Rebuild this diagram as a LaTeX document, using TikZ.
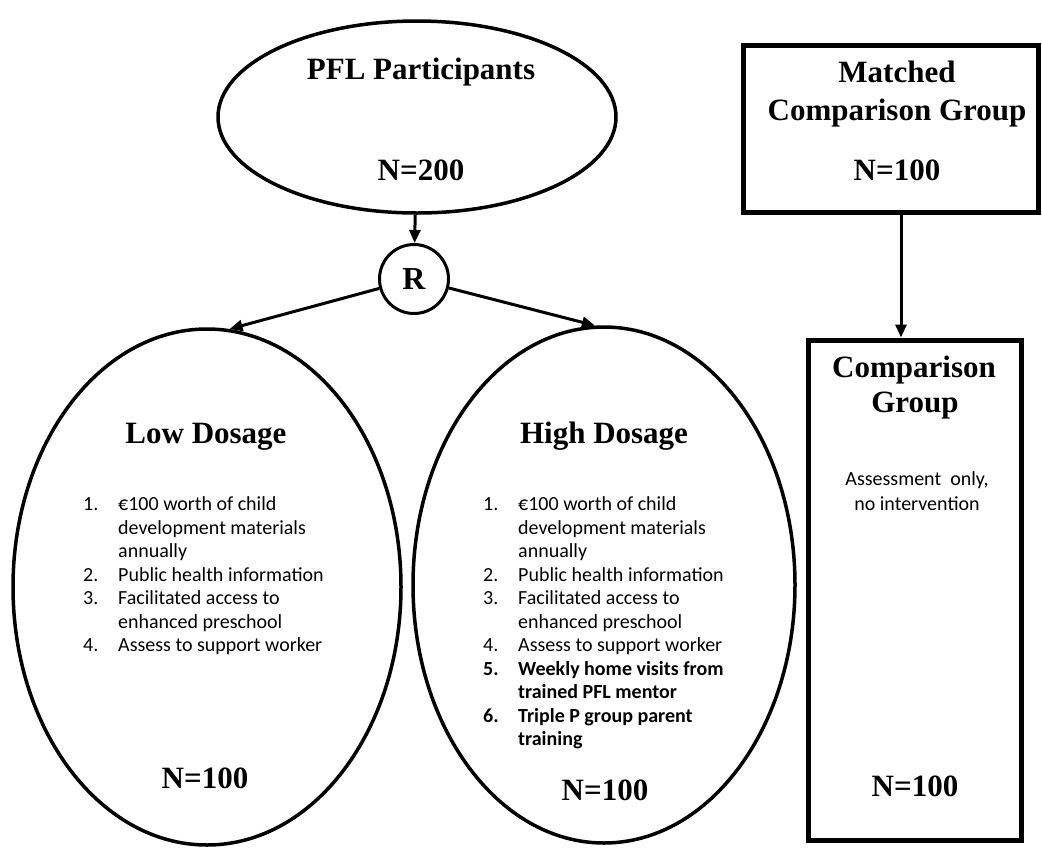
\documentclass[tikz,border=0pt]{standalone}
\usepackage{fontspec}
\setmainfont{Liberation Serif}
\newfontfamily\listfont{Carlito}
\usetikzlibrary{arrows.meta,shapes.geometric}

\begin{document}
\begin{tikzpicture}[x=1pt, y=-1pt]
	\useasboundingbox (0,0) rectangle (1042,847);
      \tikzstyle{group} = [draw, ellipse, line width=3.5pt, inner sep=0pt]
      \tikzstyle{box} = [draw, rectangle, line width=5pt, inner sep=0pt]
      \tikzstyle{title} = [anchor=base, inner sep=0pt, font=\fontsize{31}{36}\selectfont\bfseries]
      \tikzstyle{items} = [anchor=north west, inner sep=0pt, font=\listfont\fontsize{20}{23.5}\selectfont]
      \tikzstyle{note} = [anchor=base, inner sep=0pt, font=\listfont\fontsize{20}{24}\selectfont]
      \tikzstyle{flow} = [line width=3pt, -{Triangle[length=13pt,width=11pt]}]
      % groups
      \node (pfl) [group, minimum width=398, minimum height=192] at (417,117) {};
      \node (R) [draw, circle, line width=3pt, minimum size=69, inner sep=0pt, font=\fontsize{32}{36}\selectfont\bfseries] at (414,279) {R};
      \node (low) [group, minimum width=388, minimum height=516] at (207,587) {};
      \node (high) [group, minimum width=382, minimum height=516] at (604,585) {};
      \node (matched) [box, minimum width=295, minimum height=167] at (890.5,128.5) {};
      \node (cmp) [box, minimum width=213, minimum height=500] at (914.5,590) {};
      % texts
      \node (pfltitle) [title] at (421,79) {PFL Participants};
      \node (pfln) [title] at (421,180) {N=200};
      \node (matchedtop) [title] at (897,82) {Matched};
      \node (matchedbot) [title] at (897,120) {Comparison Group};
      \node (matchedn) [title] at (897,180) {N=100};
      \node (lowtitle) [title] at (206,443) {Low Dosage};
      \node (hightitle) [title] at (604,443) {High Dosage};
      \node (cmptop) [title] at (914,377) {Comparison};
      \node (cmpbot) [title] at (915,412) {Group};
      \node (cmpnote1) [note] at (917,485) {Assessment\ \ only,};
      \node (cmpnote2) [note] at (917,510) {no intervention};
      \node (lown) [title] at (205,788) {N=100};
      \node (highn) [title] at (605,800) {N=100};
      \node (cmpn) [title] at (915,796) {N=100};
      % lists
      \node (lowlist) [items] at (83,494) {\begin{tabular}{@{}p{35pt}@{}l@{}}
        1. & €100 worth of child\\
           & development materials\\
           & annually\\
        2. & Public health information\\
        3. & Facilitated access to\\
           & enhanced preschool\\
        4. & Assess to support worker
      \end{tabular}};
      \node (highlist) [items] at (483,494) {\begin{tabular}{@{}p{35pt}@{}l@{}}
        1. & €100 worth of child\\
           & development materials\\
           & annually\\
        2. & Public health information\\
        3. & Facilitated access to\\
           & enhanced preschool\\
        4. & Assess to support worker\\
        \textbf{5.} & \textbf{Weekly home visits from}\\
           & \textbf{trained PFL mentor}\\
        \textbf{6.} & \textbf{Triple P group parent}\\
           & \textbf{training}
      \end{tabular}};
      % connectors
      \draw[flow] (pfl) -- (R);
      \draw[flow] (R) -- (low.85);
      \draw[flow] (R) -- (high.92);
      \draw[flow] ([xshift=10.5pt]matched.south) -- ([xshift=-13.5pt]cmp.north);
\end{tikzpicture}
\end{document}
